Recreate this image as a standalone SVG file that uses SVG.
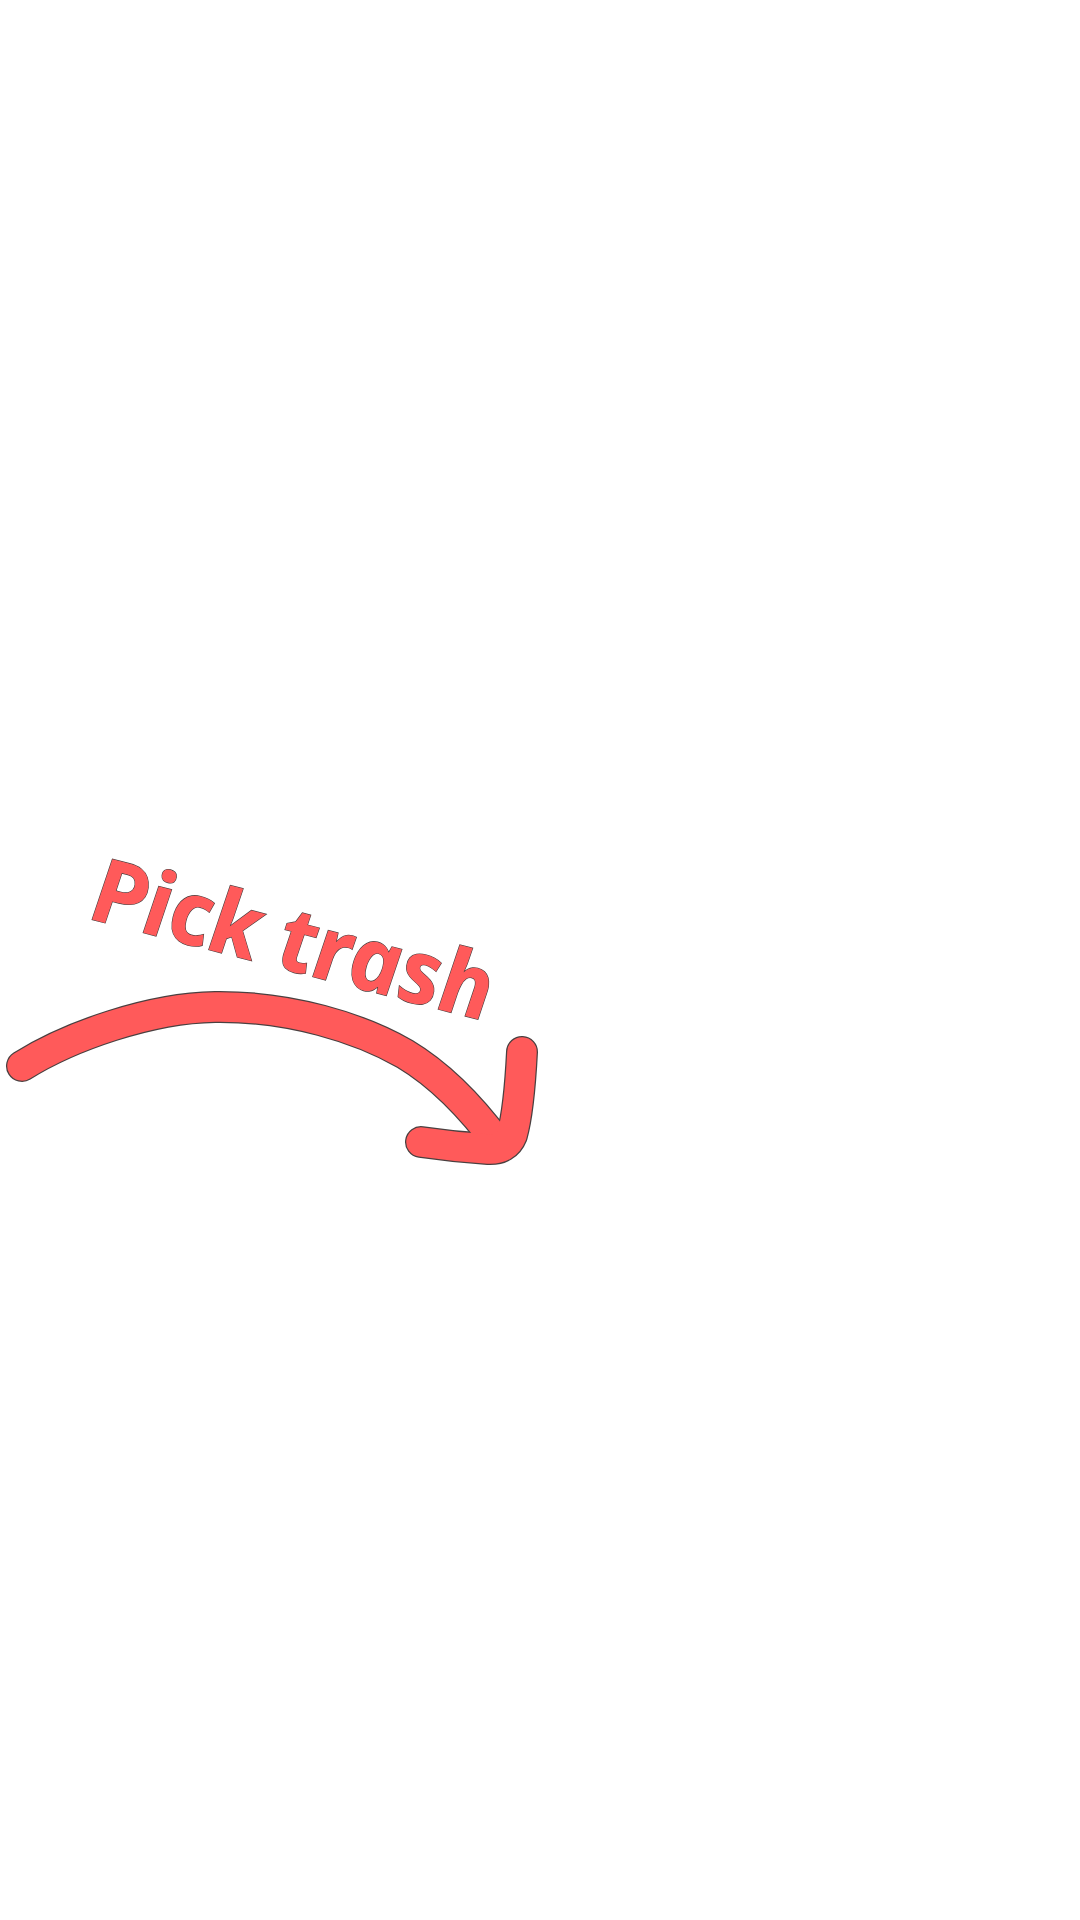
<svg xmlns="http://www.w3.org/2000/svg" width="1080" height="1920" viewBox="0 0 1080 1920">
<style>
.out{fill:none;stroke:#4a4040;stroke-width:32;stroke-linecap:round;stroke-linejoin:round}
.red{fill:none;stroke:#FF5A5A;stroke-width:29.5;stroke-linecap:round;stroke-linejoin:round}
.lbl{font-family:"Open Sans","Noto Sans",sans-serif;font-style:italic;font-weight:700;font-size:89px;fill:#FF5A5A;stroke:#4a4040;stroke-width:1.2;paint-order:stroke}
</style>
<defs>
<path id="shaft" d="M22,1066 C70,1036 150,1008 215,1007 C290,1006 360,1028 405,1054 C440,1075 470,1105 500,1146"/>
<path id="head" d="M522,1052 Q519,1110 512,1135 Q506,1150 488,1149 Q455,1147 421,1142"/>
</defs>
<rect width="1080" height="1920" fill="#ffffff"/>
<g id="label">
<text class="lbl" x="0" y="0" textLength="412" lengthAdjust="spacing" transform="translate(90 919) rotate(14.5) skewX(8)">Pick trash</text>
</g>
<g id="connectors">
<use href="#shaft" class="out"/>
<use href="#head" class="out"/>
<use href="#shaft" class="red"/>
<use href="#head" class="red"/>
</g>
</svg>
